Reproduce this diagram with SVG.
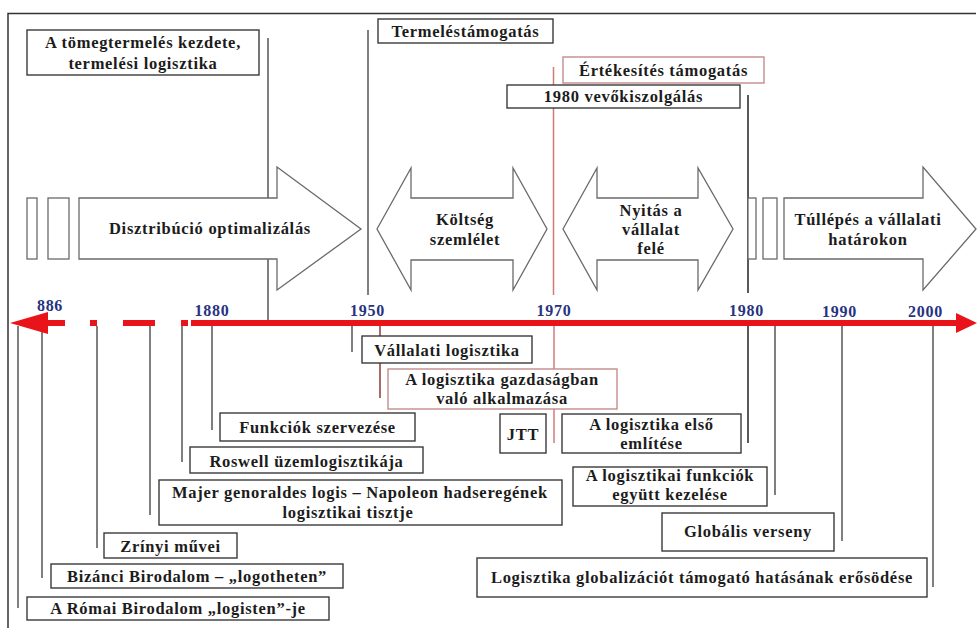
<svg xmlns="http://www.w3.org/2000/svg" width="977" height="628" viewBox="0 0 977 628">
  <style>
    text { font-family: "Liberation Serif", "Times New Roman", "DejaVu Serif", serif; font-size: 16.5px; font-weight: bold; fill: #1c1c1c; letter-spacing: 0.7px; text-anchor: middle; }
    .year { fill: #27337f; font-size: 16px; }
    .box { fill: #ffffff; stroke: #3a3a3a; stroke-width: 1.4; }
    .pink { fill: #ffffff; stroke: #c48c8c; stroke-width: 1.4; }
    .arrow { fill: #ffffff; stroke: #6a6a6a; stroke-width: 1.3; }
    .conn { stroke: #555555; stroke-width: 1.5; fill: none; }
    .dark { stroke: #222222; }
    .red { stroke: #d27a7a; }
    .maroon { stroke: #8e3a3a; }
    .bar { fill: #e8141a; }
  </style>

  <rect width="977" height="628" fill="#ffffff"/>
  <!-- outer frame -->
  <path d="M8,628 V13.5 H976" fill="none" stroke="#333" stroke-width="1.5"/>

  <!-- connectors -->
  <g id="connectors">
    <line class="conn" x1="268" y1="38" x2="268" y2="320"/>
    <line class="conn" x1="368" y1="30" x2="368" y2="295"/>
    <line class="conn red" x1="553.5" y1="67" x2="553.5" y2="295"/>
    <line class="conn dark" x1="748" y1="95" x2="748" y2="293"/>

    <line class="conn" x1="18" y1="326" x2="18" y2="608"/>
    <line class="conn" x1="42" y1="326" x2="42" y2="578"/>
    <line class="conn" x1="97" y1="326" x2="97" y2="548"/>
    <line class="conn" x1="150" y1="326" x2="150" y2="515"/>
    <line class="conn" x1="182" y1="326" x2="182" y2="462"/>
    <line class="conn" x1="212" y1="326" x2="212" y2="430"/>
    <line class="conn" x1="352" y1="326" x2="352" y2="352"/>
    <line class="conn maroon" x1="380" y1="326" x2="380" y2="398"/>
    <line class="conn red" x1="554" y1="326" x2="554" y2="443"/>
    <line class="conn dark" x1="748" y1="326" x2="748" y2="443"/>
    <line class="conn" x1="775" y1="326" x2="775" y2="495"/>
    <line class="conn" x1="842" y1="326" x2="842" y2="541"/>
    <line class="conn" x1="933" y1="326" x2="933" y2="587"/>
  </g>

  <g font-family="'Liberation Serif', serif">
  <!-- time axis -->
  <g id="timeline">
    <polygon class="bar" points="10,323 48,312 48,334"/>
    <rect class="bar" x="46" y="320" width="19" height="6"/>
    <rect class="bar" x="90" y="320" width="7" height="6"/>
    <rect class="bar" x="123" y="320" width="32" height="6"/>
    <rect class="bar" x="181" y="320" width="7" height="6"/>
    <rect class="bar" x="191" y="320" width="768" height="6"/>
    <polygon class="bar" points="956,313 977,323 956,333"/>
    <text class="year" x="50" y="311">886</text>
    <text class="year" x="212" y="316">1880</text>
    <text class="year" x="367.5" y="316">1950</text>
    <text class="year" x="554" y="316">1970</text>
    <text class="year" x="746.5" y="316">1980</text>
    <text class="year" x="839.5" y="317">1990</text>
    <text class="year" x="925.5" y="317">2000</text>
  </g>

  <!-- period arrows -->
  <g id="period-distribution">
    <rect class="arrow" x="27" y="198" width="10" height="61"/>
    <rect class="arrow" x="48" y="198" width="21" height="61"/>
    <polygon class="arrow" points="79,198 277,198 277,167 361,229 277,290 277,259 79,259"/>
    <text x="210" y="234">Disztribúció optimalizálás</text>
  </g>
  <g id="period-cost">
    <polygon class="arrow" points="377,229 411,168 411,198 513,198 513,168 547,229 513,290 513,260 411,260 411,290"/>
    <text x="465" y="225">Költség</text>
    <text x="465" y="245">szemlélet</text>
  </g>
  <g id="period-opening">
    <polygon class="arrow" points="563,229 597,168 597,198 698,198 698,168 733,229 698,290 698,260 597,260 597,290"/>
    <text x="651" y="216">Nyitás a</text>
    <text x="651" y="235">vállalat</text>
    <text x="651" y="254">felé</text>
  </g>
  <g id="period-beyond">
    <rect class="arrow" x="748" y="198" width="8" height="61"/>
    <rect class="arrow" x="763" y="198" width="14" height="61"/>
    <polygon class="arrow" points="784,198 923,198 923,167 976,229 923,290 923,259 784,259"/>
    <text x="868" y="225">Túllépés a vállalati</text>
    <text x="868" y="245">határokon</text>
  </g>

  <!-- upper event boxes -->
  <g id="mass-production">
    <rect class="box" x="27" y="30" width="232" height="45"/>
    <text x="143" y="48">A tömegtermelés kezdete,</text>
    <text x="143" y="69">termelési logisztika</text>
  </g>
  <g id="production-support">
    <rect class="box" x="378" y="19" width="175" height="24"/>
    <text x="465.5" y="37">Termeléstámogatás</text>
  </g>
  <g id="sales-support">
    <rect class="pink" x="563" y="57" width="201" height="26"/>
    <text x="663.5" y="76">Értékesítés támogatás</text>
  </g>
  <g id="customer-service">
    <rect class="box" x="507" y="85" width="233" height="23"/>
    <text x="623.5" y="102">1980 vevőkiszolgálás</text>
  </g>

  <!-- lower event boxes -->
  <g id="corporate-logistics">
    <rect class="box" x="362" y="336" width="170" height="27"/>
    <text x="447" y="356">Vállalati logisztika</text>
  </g>
  <g id="economic-application">
    <rect class="pink" x="388" y="369" width="229" height="40"/>
    <text x="502" y="385">A logisztika gazdaságban</text>
    <text x="502" y="404">való alkalmazása</text>
  </g>
  <g id="jtt">
    <rect class="box" x="500" y="414" width="46" height="39"/>
    <text x="523" y="440">JTT</text>
  </g>
  <g id="first-mention">
    <rect class="box" x="562" y="414" width="179" height="39"/>
    <text x="651.5" y="430">A logisztika első</text>
    <text x="651.5" y="449">említése</text>
  </g>
  <g id="functions-organisation">
    <rect class="box" x="220" y="413" width="195" height="28"/>
    <text x="317.5" y="433">Funkciók szervezése</text>
  </g>
  <g id="roswell">
    <rect class="box" x="190" y="447" width="233" height="26"/>
    <text x="306.5" y="467">Roswell üzemlogisztikája</text>
  </g>
  <g id="majer">
    <rect class="box" x="159" y="480" width="403" height="45"/>
    <text x="360" y="498">Majer genoraldes logis – Napoleon hadseregének</text>
    <text x="348" y="518">logisztikai tisztje</text>
  </g>
  <g id="zrinyi">
    <rect class="box" x="104" y="533" width="133" height="25"/>
    <text x="170.5" y="552">Zrínyi művei</text>
  </g>
  <g id="byzantium">
    <rect class="box" x="51" y="564" width="292" height="24"/>
    <text x="197" y="582">Bizánci Birodalom – „logotheten”</text>
  </g>
  <g id="rome">
    <rect class="box" x="27" y="597" width="302" height="23"/>
    <text x="178" y="614">A Római Birodalom „logisten”-je</text>
  </g>
  <g id="joint-functions">
    <rect class="box" x="573" y="467" width="194" height="39"/>
    <text x="670" y="481">A logisztikai funkciók</text>
    <text x="670" y="500">együtt kezelése</text>
  </g>
  <g id="global-competition">
    <rect class="box" x="662" y="513" width="172" height="38"/>
    <text x="748" y="537">Globális verseny</text>
  </g>
  <g id="globalisation">
    <rect class="box" x="477" y="558" width="450" height="39"/>
    <text x="702" y="583">Logisztika globalizációt támogató hatásának erősödése</text>
  </g>
  </g>
</svg>
